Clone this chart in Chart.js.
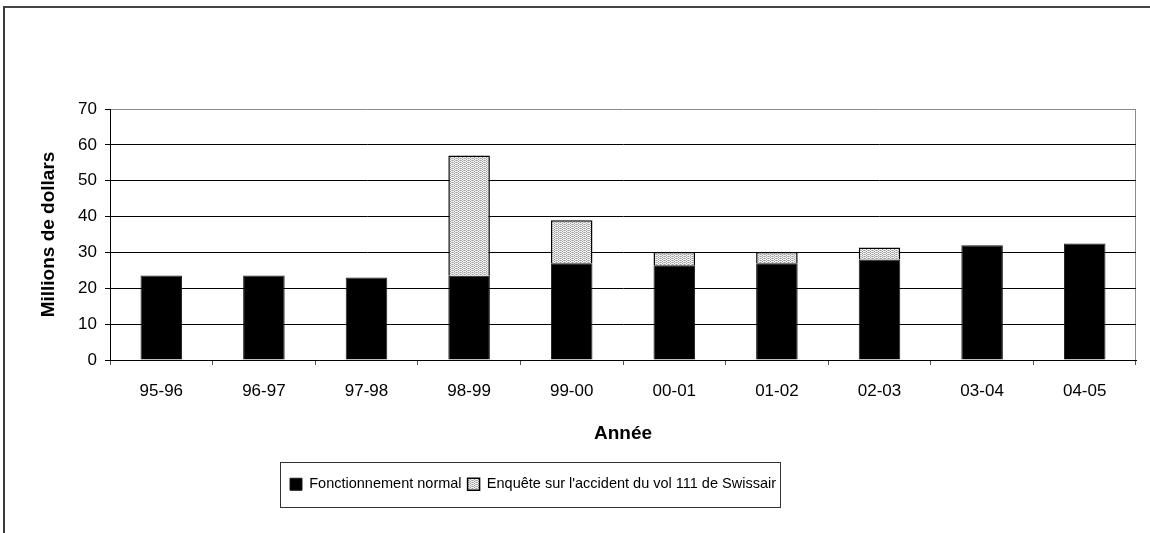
<!DOCTYPE html>
<html>
<head>
<meta charset="utf-8">
<script src="https://cdn.jsdelivr.net/npm/chart.js@4.4.1/dist/chart.umd.min.js"></script>
<style>
  html, body { margin: 0; padding: 0; background: #fff; }
  #wrap { position: relative; width: 1150px; height: 533px; overflow: hidden; }
  #wrap canvas { position: absolute; left: 0; top: 0; }
  #frame { position: absolute; left: 3px; top: 6px; width: 1200px; height: 600px;
           border-left: 2px solid #3a3a3a; border-top: 2px solid #444; pointer-events: none; }
</style>
</head>
<body>
<div id="wrap">
  <canvas id="chart" width="1150" height="533"></canvas>
  <div id="frame"></div>
</div>
<script>
// Fiscal years
const years = ['95-96', '96-97', '97-98', '98-99', '99-00', '00-01', '01-02', '02-03', '03-04', '04-05'];
// Regular operations, millions of dollars
const normalOps = [23.6, 23.6, 23.0, 23.5, 27.0, 26.4, 27.0, 28.0, 32.0, 32.5];
// Swissair Flight 111 investigation, millions of dollars
const swissair111 = [null, null, null, 33.5, 12.0, 3.7, 3.1, 3.4, null, null];
// Value axis
const yMin = 0, yMax = 70, yStep = 10;

const FONT = "'Liberation Sans', Arial, sans-serif";
const LEGEND_CENTER_X = 533;

// Fine grey stipple used for the investigation segment
function stipple() {
  const c = document.createElement('canvas');
  c.width = 4; c.height = 4;
  const g = c.getContext('2d');
  g.fillStyle = '#f2f2f2';
  g.fillRect(0, 0, 4, 4);
  g.fillStyle = '#9c9c9c';
  [[0, 0], [2, 1], [0, 2], [2, 3]].forEach(([x, y]) => g.fillRect(x, y, 1, 1));
  g.fillStyle = '#c4c4c4';
  [[1, 0], [3, 2], [1, 2], [3, 0]].forEach(([x, y]) => g.fillRect(x, y, 1, 1));
  return g.createPattern(c, 'repeat');
}

// Moves the centred legend row and frames it with a thin box
const legendFrame = {
  id: 'legendFrame',
  afterLayout(chart) {
    const lg = chart.legend;
    const dx = LEGEND_CENTER_X - (lg.left + lg.right) / 2;
    lg.left += dx;
    lg.right += dx;
  },
  afterDraw(chart) {
    const boxes = chart.legend.legendHitBoxes;
    if (!boxes || !boxes.length) return;
    const l = Math.min(...boxes.map(b => b.left));
    const r = Math.max(...boxes.map(b => b.left + b.width));
    const t = Math.min(...boxes.map(b => b.top));
    const ctx = chart.ctx;
    ctx.save();
    ctx.strokeStyle = '#333';
    ctx.lineWidth = 1;
    ctx.strokeRect(Math.round(l - 10) + 0.5, Math.round(t - 15) + 0.5,
                   Math.round(r - l + 14), 45);
    ctx.restore();
  }
};

const ctx = document.getElementById('chart').getContext('2d');
new Chart(ctx, {
  type: 'bar',
  data: {
    labels: years,
    datasets: [
      {
        label: 'Fonctionnement normal',
        data: normalOps,
        backgroundColor: '#000',
        borderColor: '#1a1a1a',
        borderWidth: 1,
        barPercentage: 0.405,
        categoryPercentage: 1
      },
      {
        label: "Enquête sur l'accident du vol 111 de Swissair",
        data: swissair111,
        backgroundColor: stipple(),
        borderColor: '#000',
        borderWidth: 1.5,
        barPercentage: 0.405,
        categoryPercentage: 1
      }
    ]
  },
  options: {
    responsive: false,
    animation: false,
    events: [],
    layout: { padding: { left: 34, top: 109, right: 14, bottom: 31.5 } },
    plugins: {
      tooltip: { enabled: false },
      legend: {
        position: 'bottom',
        labels: {
          boxWidth: 12,
          boxHeight: 12,
          padding: 6,
          color: '#000',
          font: { family: FONT, size: 14.5 }
        }
      }
    },
    scales: {
      x: {
        stacked: true,
        grid: {
          offset: true,
          drawOnChartArea: true,
          color: c => (c.tick ? 'rgba(0,0,0,0)' : '#8c8c8c'),
          tickColor: '#555',
          tickLength: 5,
          lineWidth: 1
        },
        border: { color: '#000', width: 1 },
        ticks: { color: '#000', padding: 16, font: { family: FONT, size: 17 } },
        title: {
          display: true,
          text: 'Année',
          color: '#000',
          font: { family: FONT, size: 19, weight: 'bold' },
          padding: { top: 0, bottom: 26 }
        },
        afterFit: s => { s.height = 111; }
      },
      y: {
        stacked: true,
        min: yMin,
        max: yMax,
        grid: {
          color: c => (c.tick && c.tick.value === yMax ? '#8c8c8c' : '#000'),
          tickColor: '#000',
          tickLength: 5,
          lineWidth: 1
        },
        border: { color: '#000', width: 1 },
        ticks: { stepSize: yStep, color: '#000', padding: 8, font: { family: FONT, size: 17 } },
        title: {
          display: true,
          text: 'Millions de dollars',
          color: '#000',
          font: { family: FONT, size: 19, weight: 'bold' },
          padding: { top: 3, bottom: 0 }
        },
        afterFit: s => { s.width = 110 - 34; }
      }
    }
  },
  plugins: [legendFrame]
});
</script>
</body>
</html>
